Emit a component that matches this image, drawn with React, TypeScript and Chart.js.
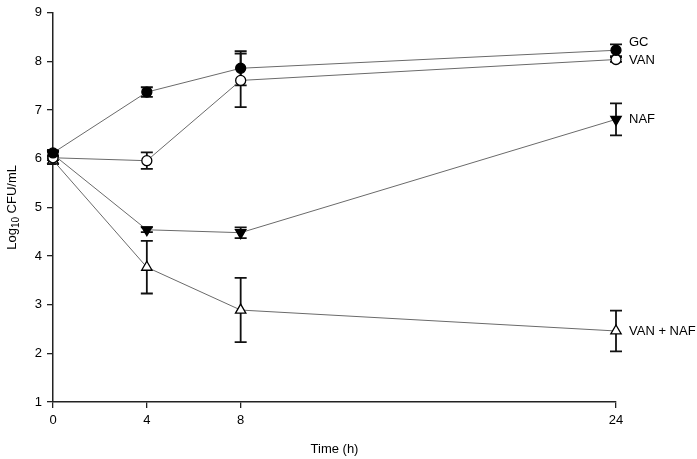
import React, { useEffect, useRef } from "react";
import { Chart, registerables } from "chart.js";
Chart.register(...registerables);

const times = [0, 4, 8, 24];
const xTicks = [0, 4, 8, 24];
const seriesNames = ["GC", "VAN", "NAF", "VAN + NAF"];
const gcValues = [6.12, 7.37, 7.86, 8.23];
const gcErr = [0.06, 0.1, 0.35, 0.12];
const vanValues = [6.02, 5.96, 7.61, 8.04];
const vanErr = [0.05, 0.17, 0.55, 0.05];
const nafValues = [6.09, 4.54, 4.48, 6.81];
const nafErr = [0.05, 0.05, 0.11, 0.33];
const vnValues = [5.97, 3.77, 2.89, 2.46];
const vnErr = [0.08, 0.54, 0.66, 0.42];

const FONT = "Arial, 'Liberation Sans', sans-serif";

export default function App() {
  const ref = useRef<HTMLCanvasElement>(null);
  useEffect(() => {
    document.body.style.margin = "0";
    const values = [gcValues, vanValues, nafValues, vnValues];
    const errs = [gcErr, vanErr, nafErr, vnErr];
    const styles = [
      { style: "circle", fill: "#000", rot: 0, r: 5, labelDy: -8 },
      { style: "circle", fill: "#fff", rot: 0, r: 5, labelDy: 1 },
      { style: "triangle", fill: "#000", rot: 180, r: 6, labelDy: 0 },
      { style: "triangle", fill: "#fff", rot: 0, r: 6, labelDy: 0 },
    ];
    const datasets = values.map((vals, i) => ({
      label: seriesNames[i],
      data: times.map((t, j) => ({ x: t, y: vals[j] })),
      borderColor: "#6a6a6a",
      borderWidth: 1,
      pointStyle: styles[i].style as any,
      pointRotation: styles[i].rot,
      pointRadius: styles[i].r,
      pointBackgroundColor: styles[i].fill,
      pointBorderColor: "#000",
      pointBorderWidth: 1.3,
      showLine: true,
      fill: false,
      tension: 0,
      clip: false,
    }));

    const errPlugin = {
      id: "errbars",
      beforeDatasetsDraw(chart: any) {
        const ctx = chart.ctx;
        const xs = chart.scales.x;
        const ys = chart.scales.y;
        ctx.save();
        ctx.strokeStyle = "#111";
        ctx.lineWidth = 1.8;
        values.forEach((vals, i) => {
          vals.forEach((v, j) => {
            const e = errs[i][j];
            const px = xs.getPixelForValue(times[j]);
            const top = ys.getPixelForValue(v + e);
            const bot = ys.getPixelForValue(v - e);
            ctx.beginPath();
            ctx.moveTo(px, top);
            ctx.lineTo(px, bot);
            ctx.moveTo(px - 6, top);
            ctx.lineTo(px + 6, top);
            ctx.moveTo(px - 6, bot);
            ctx.lineTo(px + 6, bot);
            ctx.stroke();
          });
        });
        ctx.restore();
      },
      afterDraw(chart: any) {
        const ctx = chart.ctx;
        const xs = chart.scales.x;
        const ys = chart.scales.y;
        ctx.save();
        ctx.fillStyle = "#000";
        ctx.font = `13px ${FONT}`;
        ctx.textBaseline = "middle";
        ctx.textAlign = "left";
        values.forEach((vals, i) => {
          const last = vals.length - 1;
          const px = xs.getPixelForValue(times[last]);
          const py = ys.getPixelForValue(vals[last]);
          ctx.fillText(seriesNames[i], px + 13, py + styles[i].labelDy);
        });
        // x title
        ctx.textAlign = "center";
        ctx.fillText("Time (h)", (chart.chartArea.left + chart.chartArea.right) / 2, 449);
        // y title with subscript
        const cy = (chart.chartArea.top + chart.chartArea.bottom) / 2;
        ctx.translate(12, cy);
        ctx.rotate(-Math.PI / 2);
        const p1 = "Log";
        const p2 = "10";
        const p3 = " CFU/mL";
        ctx.font = `13px ${FONT}`;
        const w1 = ctx.measureText(p1).width;
        const w3 = ctx.measureText(p3).width;
        ctx.font = `10px ${FONT}`;
        const w2 = ctx.measureText(p2).width;
        const total = w1 + w2 + w3;
        let x0 = -total / 2;
        ctx.textAlign = "left";
        ctx.font = `13px ${FONT}`;
        ctx.fillText(p1, x0, 0);
        x0 += w1;
        ctx.font = `10px ${FONT}`;
        ctx.fillText(p2, x0, 4);
        x0 += w2;
        ctx.font = `13px ${FONT}`;
        ctx.fillText(p3, x0, 0);
        ctx.restore();
      },
    };

    const chart = new Chart(ref.current!, {
      type: "scatter",
      data: { datasets: datasets as any },
      plugins: [errPlugin],
      options: {
        animation: false,
        responsive: false,
        layout: { padding: { top: 8, right: 81, left: 0, bottom: 0 } },
        plugins: { legend: { display: false }, tooltip: { enabled: false } },
        scales: {
          x: {
            type: "linear",
            min: 0,
            max: 24,
            afterBuildTicks: (s: any) => {
              s.ticks = xTicks.map((v) => ({ value: v }));
            },
            afterFit: (s: any) => {
              s.height = 57;
            },
            grid: { drawOnChartArea: false, drawTicks: true, tickLength: 6, color: "#222", lineWidth: 1.3 },
            border: { color: "#222", width: 1.5 },
            ticks: { color: "#000", font: { family: FONT, size: 13 }, padding: 5, maxRotation: 0, autoSkip: false },
          },
          y: {
            type: "linear",
            min: 1,
            max: 9,
            afterFit: (s: any) => {
              s.width = 53;
            },
            grid: { drawOnChartArea: false, drawTicks: true, tickLength: 6, color: "#222", lineWidth: 1.3 },
            border: { color: "#222", width: 1.5 },
            ticks: { stepSize: 1, color: "#000", font: { family: FONT, size: 13 }, padding: 5 },
          },
        },
      },
    });
    return () => chart.destroy();
  }, []);
  return <canvas ref={ref} width={697} height={459} style={{ display: "block" }} />;
}
